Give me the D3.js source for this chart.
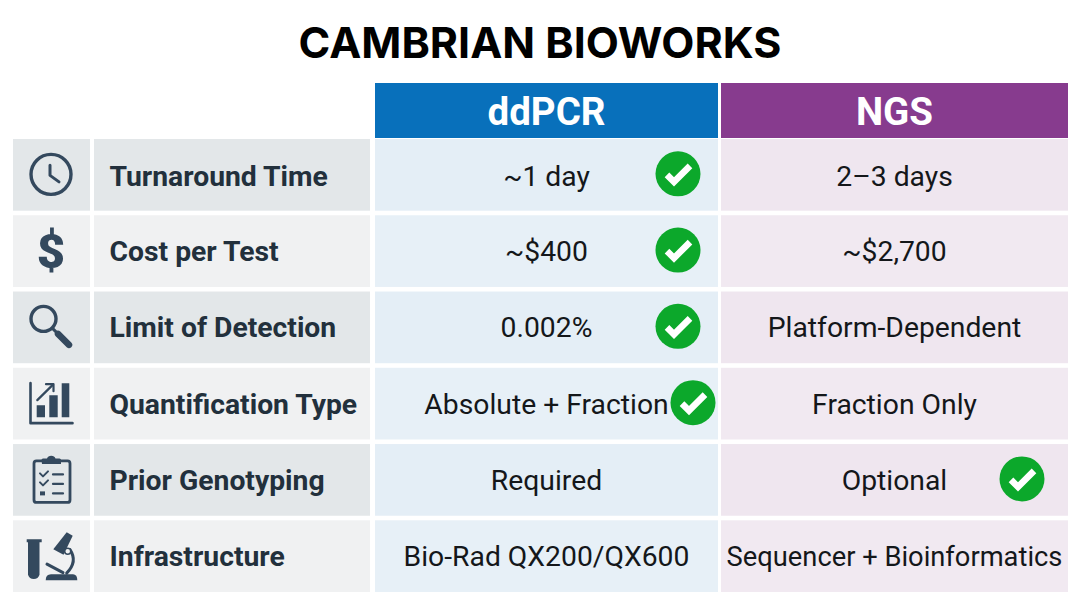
<!DOCTYPE html>
<html><head><meta charset="utf-8">
<script src="https://cdn.jsdelivr.net/npm/d3@7"></script>
<style>html,body{margin:0;padding:0;background:#fff}svg{display:block}text{font-family:Roboto,sans-serif}</style>
</head><body><svg id="c" width="1080" height="603"></svg>
<script>
const title = "CAMBRIAN BIOWORKS";
const methods = ["ddPCR", "NGS"];
const metrics = ["Turnaround Time","Cost per Test","Limit of Detection","Quantification Type","Prior Genotyping","Infrastructure"];
const icons = ["clock","dollar","search","chart","clipboard","lab"];
const ddpcrValues = ["~1 day","~$400","0.002%","Absolute + Fraction","Required","Bio-Rad QX200/QX600"];
const ngsValues = ["2–3 days","~$2,700","Platform-Dependent","Fraction Only","Optional","Sequencer + Bioinformatics"];
const ddpcrWins = [1,1,1,1,0,0];
const ngsWins = [0,0,0,0,1,0];

const svg = d3.select("#c");
const ink = "#34495e", labelInk = "#22303c";
const rowY = d3.scaleBand().domain(metrics).range([139,592]).paddingInner(0.06).paddingOuter(0);
const colX = d3.scaleOrdinal().domain(methods).range([375,721]);
const colW = d3.scaleOrdinal().domain(methods).range([343,347]);
const headFill = d3.scaleOrdinal().domain(methods).range(["#0870bb","#873b8e"]);
const cellFill = {ddPCR:["#e4eef6","#e7f0f7"], NGS:["#efe6ef","#f1e9f1"]};
const values = {ddPCR:ddpcrValues, NGS:ngsValues};
const wins = {ddPCR:ddpcrWins, NGS:ngsWins};
const checkX = {ddPCR:[678,678,678,693,0,0], NGS:[0,0,0,0,1022,0]};
const textNudge = i => i===0 ? 1.5 : i===1 ? -0.5 : 0;

svg.append("text").text(title).attr("x",540).attr("y",58).attr("text-anchor","middle")
  .style("font-family","Inter,sans-serif").style("font-weight",700).style("font-size","43px").attr("fill","#000");

methods.forEach(m=>{
  svg.append("rect").attr("x",colX(m)).attr("y",83).attr("width",colW(m)).attr("height",55).attr("fill",headFill(m));
  svg.append("text").text(m).attr("x",colX(m)+colW(m)/2).attr("y",125).attr("text-anchor","middle")
    .attr("fill","#fff").style("font-weight",700).style("font-size","38.5px");
});

metrics.forEach((r,i)=>{
  const y=rowY(r), h=rowY.bandwidth(), cy=y+h/2, odd=i%2;
  const g1 = odd? "#f0f1f2":"#e3e7e9";
  svg.append("rect").attr("x",13).attr("y",y).attr("width",77).attr("height",h).attr("fill",g1);
  svg.append("rect").attr("x",94).attr("y",y).attr("width",276).attr("height",h).attr("fill",g1);
  svg.append("text").text(r).attr("x",109.5).attr("y",cy+10+textNudge(i)).attr("fill",labelInk)
    .style("font-weight",700).style("font-size","28.3px");
  methods.forEach(m=>{
    svg.append("rect").attr("x",colX(m)).attr("y",y).attr("width",colW(m)).attr("height",h).attr("fill",cellFill[m][odd]);
    const t=svg.append("text").text(values[m][i]).attr("x",colX(m)+colW(m)/2).attr("y",cy+10+textNudge(i))
      .attr("text-anchor","middle").attr("fill","#14171a").style("font-size","28.3px");
    const w=t.node().getComputedTextLength();
    if(w>colW(m)-10) t.style("font-size",(28.3*(colW(m)-11)/w)+"px");
    if(wins[m][i]){
      const c=svg.append("g").attr("transform",`translate(${checkX[m][i]},${cy-1})`);
      c.append("circle").attr("r",22.5).attr("fill","#0ca82b");
      c.append("path").attr("d","M-11,1 L-4,8 L12,-8").attr("fill","none").attr("stroke","#fff").attr("stroke-width",6.5);
    }
  });
  const ic=svg.append("g").attr("transform",`translate(51,${cy-0.5})`);
  drawIcon(ic,icons[i]);
});

function drawIcon(g,k){
  const S=(d,w)=>g.append("path").attr("d",d).attr("fill","none").attr("stroke",ink).attr("stroke-width",w||3).attr("stroke-linecap","round").attr("stroke-linejoin","round");
  const F=(d)=>g.append("path").attr("d",d).attr("fill",ink);
  if(k==="clock"){
    g.append("circle").attr("r",20).attr("fill","none").attr("stroke",ink).attr("stroke-width",3.4);
    S("M-1,-9 L-1,1 L8,7.5",3);
  } else if(k==="dollar"){
    g.append("text").text("$").attr("text-anchor","middle").attr("y",17.5).attr("fill",ink)
      .style("font-weight",900).style("font-size","49px");
  } else if(k==="search"){
    g.append("circle").attr("cx",-7.5).attr("cy",-8).attr("r",12.5).attr("fill","none").attr("stroke",ink).attr("stroke-width",3.4);
    S("M2,2 L6,6",3); S("M7,7 L18,18",6.5);
  } else if(k==="chart"){
    S("M-20.5,-20 V20 H21.5",2.6);
    F("M-14.3,2 h8.3 v12 h-8.3z M-1.7,-8 h8.4 v22 h-8.4z M10.7,-20 h7.6 v34 h-7.6z");
    S("M-13.7,-3 L2,-18.5",2.2); S("M-5,-19 L2.5,-19 L2.5,-12",2.2);
  } else if(k==="clipboard"){
    g.append("rect").attr("x",-17).attr("y",-18.5).attr("width",36).attr("height",41.5).attr("rx",2.5).attr("fill","none").attr("stroke",ink).attr("stroke-width",2.8);
    F("M-9,-15.5 h19 v-4 q0,-1.5 -1.5,-1.5 h-4 a4.5,4 0 0 0 -8.5,0 h-4 q-1.5,0 -1.5,1.5z");
    S("M-11,-6 L-8,-3 L-3,-8",2); S("M-11,3 L-8,6 L-3,1",2);
    S("M2,-5 H12",2.2); S("M2,4.5 H12",2.2); S("M2,14 H12",2.2);
    F("M-11,12 h5 v4 h-5z");
  } else {
    F("M-24.3,-16.5 H-9.3 V-13.5 H-11.5 V19 A6,6 0 0 1 -23,19 V-13.5 H-24.3Z");
    F("M-5.3,24.5 Q-5.3,18.5 0,18.5 H22 Q26.3,18.5 26.3,24.5Z");
    F("M15.7,-23.5 L21.7,-20 L12.5,-1 L2.3,-6.5Z");
    S("M19,-6 Q27,6 15.7,17.5",3);
    S("M-4,8.5 L12,17",3);
    g.append("circle").attr("cx",16.7).attr("cy",-4.5).attr("r",3).attr("fill","#f1f2f3").attr("stroke",ink).attr("stroke-width",1.5);
  }
}
</script></body></html>
